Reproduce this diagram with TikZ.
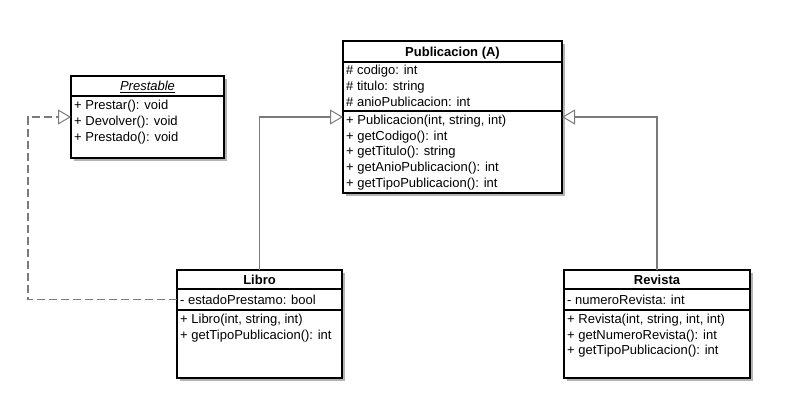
\documentclass[tikz,border=0pt]{standalone}
\usepackage{fontspec}
\setmainfont{Liberation Sans}
\usetikzlibrary{arrows.meta}
\definecolor{conn}{HTML}{7A7A7A}
\definecolor{shadowgray}{HTML}{B3B3B3}
\newcommand\umlbox[5]{%
  \fill[shadowgray] (#2+3,#3+3) rectangle (#4+3,#5+3);
  \node[umlbox, minimum width={#4-#2}, minimum height={#5-#3}] (#1) at (#2,#3) {};
}
\begin{document}
\begin{tikzpicture}[x=1pt,y=-1pt,
  umlbox/.style={draw=black, line width=1.5pt, fill=white, inner sep=0pt, outer sep=0pt, anchor=north west},
  sepline/.style={draw=black, line width=1.3pt},
  member/.style={anchor=base west, inner sep=0pt, font=\fontsize{13}{15}\selectfont},
  umltitle/.style={anchor=base, inner sep=0pt, font=\fontsize{13}{15}\selectfont\bfseries},
  inherit/.style={draw=conn, line width=1.1pt, -{Triangle[open, length=13pt, width=15pt, line width=1pt]}},
  realize/.style={inherit, dash pattern=on 8pt off 4pt}
]
\fill[white] (0,0) rectangle (786,417);
\useasboundingbox (0,0) rectangle (786,417);

% Prestable
\umlbox{pre}{71}{76}{224}{158}
\draw[sepline] (pre.west |- 0,96) -- (pre.east |- 0,96);
\node[umltitle, font=\fontsize{13}{15}\selectfont\mdseries] (preT) at (pre.north |- 0,90.5) {\underline{\textit{Prestable}}};
\node[member] (preM1) at (74,109.7) {+ Prestar(): void};
\node[member] (preM2) at (74,125.7) {+ Devolver(): void};
\node[member] (preM3) at (74,141.7) {+ Prestado(): void};

% Publicacion
\umlbox{pub}{343}{41}{562}{193}
\draw[sepline] (pub.west |- 0,62) -- (pub.east |- 0,62);
\draw[sepline] (pub.west |- 0,111) -- (pub.east |- 0,111);
\node[umltitle] (pubT) at (pub.north |- 0,56.2) {Publicacion (A)};
\node[member] (pubA1) at (346,74.7) {\# codigo: int};
\node[member] (pubA2) at (346,90.7) {\# titulo: string};
\node[member] (pubA3) at (346,106.5) {\# anioPublicacion: int};
\node[member] (pubM1) at (346,124.5) {+ Publicacion(int, string, int)};
\node[member] (pubM2) at (346,140.2) {+ getCodigo(): int};
\node[member] (pubM3) at (346,155.9) {+ getTitulo(): string};
\node[member] (pubM4) at (346,171.6) {+ getAnioPublicacion(): int};
\node[member] (pubM5) at (346,187.3) {+ getTipoPublicacion(): int};

% Libro
\umlbox{lib}{177}{270}{342}{378}
\draw[sepline] (lib.west |- 0,289) -- (lib.east |- 0,289);
\draw[sepline] (lib.west |- 0,310) -- (lib.east |- 0,310);
\node[umltitle] (libT) at (lib.north |- 0,284.3) {Libro};
\node[member] (libA1) at (180,304.2) {- estadoPrestamo: bool};
\node[member] (libM1) at (180,323.7) {+ Libro(int, string, int)};
\node[member] (libM2) at (180,339.4) {+ getTipoPublicacion(): int};

% Revista
\umlbox{rev}{564}{270}{750}{378}
\draw[sepline] (rev.west |- 0,289) -- (rev.east |- 0,289);
\draw[sepline] (rev.west |- 0,310) -- (rev.east |- 0,310);
\node[umltitle] (revT) at (rev.north |- 0,284.3) {Revista};
\node[member] (revA1) at (567,304.2) {- numeroRevista: int};
\node[member] (revM1) at (567,323.7) {+ Revista(int, string, int, int)};
\node[member] (revM2) at (567,339.2) {+ getNumeroRevista(): int};
\node[member] (revM3) at (567,354.7) {+ getTipoPublicacion(): int};

% connectors
\draw[inherit] (lib.north) |- (pub.west);
\draw[inherit] (rev.north) |- (pub.east);
\draw[realize] (lib.west |- libA1.west) -- ++(-149,0) |- (pre.west);
\end{tikzpicture}
\end{document}
